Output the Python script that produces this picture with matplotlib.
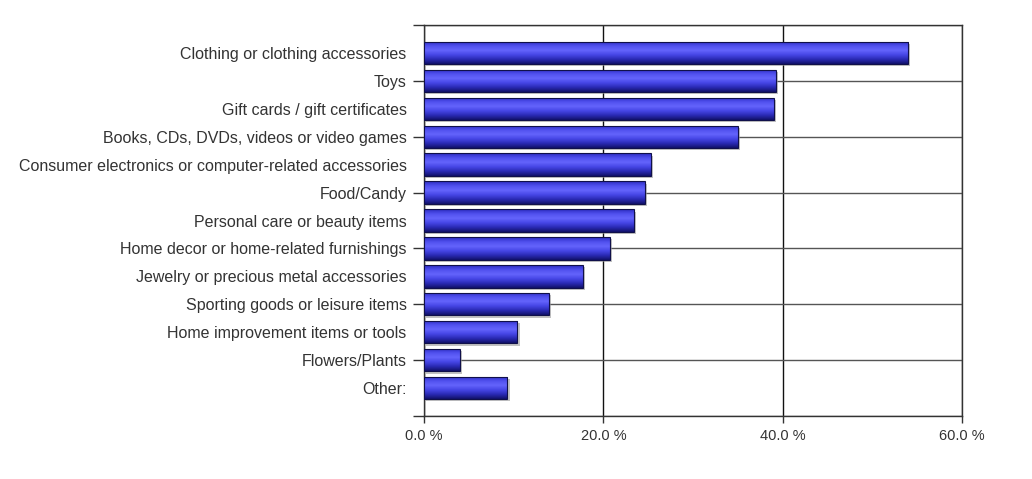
import numpy as np
import matplotlib
matplotlib.use("Agg")
import matplotlib.pyplot as plt
from matplotlib.colors import LinearSegmentedColormap
from matplotlib.patches import Rectangle

categories = [
    "Clothing or clothing accessories",
    "Toys",
    "Gift cards / gift certificates",
    "Books, CDs, DVDs, videos or video games",
    "Consumer electronics or computer-related accessories",
    "Food/Candy",
    "Personal care or beauty items",
    "Home decor or home-related furnishings",
    "Jewelry or precious metal accessories",
    "Sporting goods or leisure items",
    "Home improvement items or tools",
    "Flowers/Plants",
    "Other:",
]
values = [54.0, 39.2, 39.0, 35.0, 25.3, 24.6, 23.4, 20.7, 17.7, 13.9, 10.4, 4.0, 9.3]
xticks = [0, 20, 40, 60]
xtick_labels = ["0.0 %", "20.0 %", "40.0 %", "60.0 %"]

plt.rcParams['font.family'] = ['Liberation Sans', 'DejaVu Sans']

fig = plt.figure(figsize=(10.32, 4.79), dpi=100)
ax = fig.add_axes([0.4109, 0.1315, 0.5213, 0.8163])

# cylinder-like shading, top -> bottom
bar_cmap = LinearSegmentedColormap.from_list(
    "cyl", ["#2c2cc0", "#5050ee", "#6464fc", "#4646e6", "#2a2ab4", "#12126a"])
grad = np.linspace(0, 1, 64).reshape(-1, 1)

h = 0.8
ypos = np.arange(len(categories))
for y, v in zip(ypos, values):
    # soft shadow
    ax.add_patch(Rectangle((0.25, y - h / 2 + 0.08), v, h, facecolor="#9a9a9a",
                           edgecolor="none", alpha=0.6, zorder=2))
    im = ax.imshow(grad, cmap=bar_cmap, aspect="auto", interpolation="bilinear",
                   extent=(0, v, y + h / 2, y - h / 2), zorder=3)
    rect = Rectangle((0, y - h / 2), v, h, facecolor="none",
                     edgecolor="#10104a", linewidth=0.8, zorder=4)
    ax.add_patch(rect)
    im.set_clip_path(rect)

ax.set_xlim(0, 60)
ax.set_ylim(13, -1)

# grid lines and tick marks sit on every other row (major), other rows are minor
major_pos = np.arange(-1, 14, 2)
minor_pos = ypos[ypos % 2 == 0]
ax.set_yticks(major_pos)
ax.set_yticklabels([categories[p] if 0 <= p < len(categories) else "" for p in major_pos])
ax.set_yticks(minor_pos, minor=True)
ax.set_yticklabels([categories[p] for p in minor_pos], minor=True)
tick_len = 8
label_gap = 12.5
ax.tick_params(axis="y", which="major", length=tick_len, width=1, color="#333333",
               pad=label_gap - tick_len, labelsize=11.5, labelcolor="#333333")
ax.tick_params(axis="y", which="minor", length=0, pad=label_gap, labelsize=11.5,
               labelcolor="#333333")

ax.set_xticks(xticks)
ax.set_xticklabels(xtick_labels)
ax.tick_params(axis="x", length=5, width=1, color="#333333", labelsize=10.5,
               labelcolor="#333333", pad=4)

ax.grid(True, axis="y", which="major", color="#555555", linewidth=1.0, zorder=1)
ax.grid(True, axis="x", which="major", color="#111111", linewidth=1.0, zorder=1)
ax.set_axisbelow(True)

for s in ax.spines.values():
    s.set_color("#333333")
    s.set_linewidth(1.0)

fig.savefig("out.png", dpi=100)
